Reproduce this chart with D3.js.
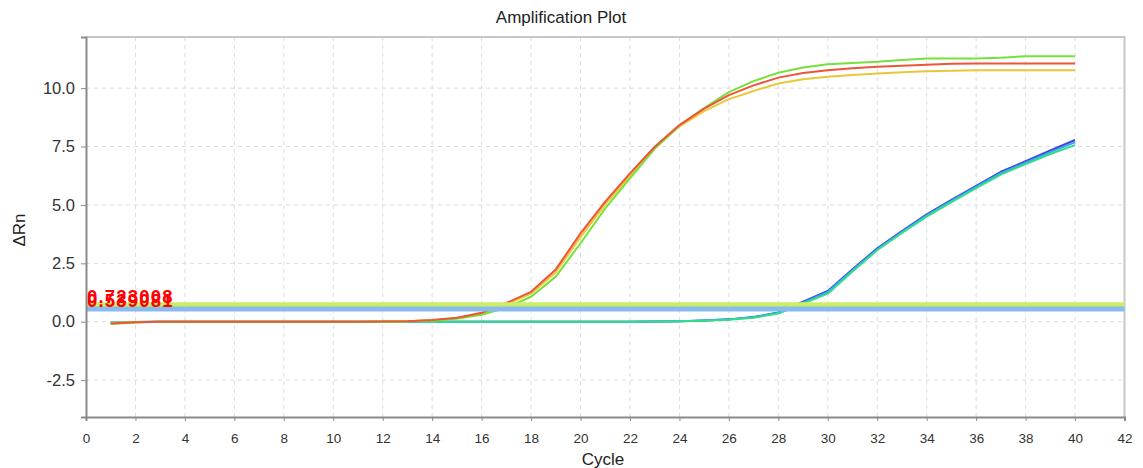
<!DOCTYPE html>
<html>
<head>
<meta charset="utf-8">
<script src="https://cdn.jsdelivr.net/npm/d3@7"></script>
<style>
  html, body { margin: 0; padding: 0; background: #fff; }
  svg { display: block; font-family: "Liberation Sans", Arial, sans-serif; }
</style>
</head>
<body>
<svg id="chart" width="1143" height="468"></svg>
<script>
// Amplification data: ΔRn per cycle for each well
const cycles = d3.range(1, 41);

const redWell = [-0.08,-0.02,0,0,0,0,0,0,0,0,0,0.01,0.02,0.07,0.17,0.38,0.8,1.28,2.24,3.78,
  5.14,6.35,7.49,8.42,9.12,9.7,10.12,10.45,10.65,10.77,10.85,10.92,10.96,11.0,11.04,11.06,11.06,11.06,11.06,11.06];
const yellowWell = [-0.06,-0.02,0,0,0,0,0,0,0,0,0,0.01,0.02,0.06,0.15,0.35,0.74,1.2,2.12,3.62,
  5.02,6.26,7.44,8.36,9.02,9.53,9.88,10.2,10.38,10.49,10.56,10.63,10.68,10.72,10.75,10.77,10.77,10.77,10.77,10.77];
const greenWell = [-0.1,-0.03,0,0,0,0,0,0,0,0,0,0.01,0.02,0.05,0.13,0.3,0.6,1.07,1.93,3.36,
  4.85,6.14,7.4,8.4,9.15,9.83,10.3,10.66,10.88,11.02,11.08,11.13,11.2,11.27,11.27,11.27,11.3,11.37,11.37,11.37];
const blueWell = [-0.04,-0.01,0,0,0,0,0,0,0,0,0,0,0,0,0,0,0,0,0,0,
  0,0,0.01,0.02,0.05,0.1,0.2,0.39,0.86,1.32,2.25,3.14,3.88,4.6,5.22,5.82,6.42,6.87,7.33,7.78];
const skyWell = [-0.04,-0.01,0,0,0,0,0,0,0,0,0,0,0,0,0,0,0,0,0,0,
  0,0,0.01,0.02,0.05,0.1,0.19,0.38,0.82,1.27,2.2,3.1,3.84,4.55,5.17,5.77,6.36,6.81,7.26,7.68];
const tealWell = [-0.04,-0.01,0,0,0,0,0,0,0,0,0,0,0,0,0,0,0,0,0,0,
  0,0,0.01,0.02,0.04,0.08,0.17,0.35,0.78,1.2,2.15,3.06,3.8,4.5,5.12,5.72,6.3,6.75,7.18,7.56];

// drawing order: later wells sit on top
const wells = [
  { name: "blue",   color: "#3f44dd", values: blueWell },
  { name: "sky",    color: "#33aaee", values: skyWell },
  { name: "teal",   color: "#33dd88", values: tealWell },
  { name: "yellow", color: "#e8c83a", values: yellowWell },
  { name: "green",  color: "#77e03a", values: greenWell },
  { name: "red",    color: "#ee5538", values: redWell }
];

// Threshold lines and their labels
const thresholdValues = [0.723008, 0.539081];
const thresholdLabels = ["0.723008", "0.539081"];
const thresholdColors = ["#ccee66", "#88bbee"];

const xTicks = d3.range(0, 43, 2);
const yTicks = [-2.5, 0, 2.5, 5, 7.5, 10];

const svg = d3.select("#chart");
const m = { left: 86, right: 1124.5, top: 37, bottom: 417 };

const x = d3.scaleLinear().domain([0, 42]).range([m.left, m.right]);
const y = d3.scaleLinear().domain([-4.08, 12.19]).range([m.bottom, m.top]);

// grid
const grid = svg.append("g").attr("stroke", "#dcdcdc").attr("stroke-dasharray", "4,4").attr("stroke-width", 1);
xTicks.slice(1, -1).forEach(t => grid.append("line").attr("x1", x(t)).attr("x2", x(t)).attr("y1", m.top).attr("y2", m.bottom));
yTicks.forEach(t => grid.append("line").attr("x1", m.left).attr("x2", m.right).attr("y1", y(t)).attr("y2", y(t)));

// frame: top and right border
svg.append("path")
  .attr("d", `M${m.left},${m.top}H${m.right}V${m.bottom}`)
  .attr("fill", "none").attr("stroke", "#c8c8c8").attr("stroke-width", 2);

// curves
const line = d3.line().x((d, i) => x(cycles[i])).y(d => y(d));
svg.append("g").selectAll("path").data(wells).join("path")
  .attr("d", d => line(d.values))
  .attr("fill", "none")
  .attr("stroke", d => d.color)
  .attr("stroke-width", 2)
  .attr("stroke-linejoin", "round");

// thresholds
thresholdValues.forEach((v, i) => {
  svg.append("line")
    .attr("x1", m.left).attr("x2", m.right)
    .attr("y1", y(v)).attr("y2", y(v))
    .attr("stroke", thresholdColors[i]).attr("stroke-width", 5);
});
thresholdValues.forEach((v, i) => {
  svg.append("text")
    .attr("x", m.left + 1).attr("y", y(v) - 2)
    .attr("fill", "#ff0000")
    .attr("font-weight", "bold")
    .attr("font-size", 18.5)
    .attr("letter-spacing", 1.2)
    .text(thresholdLabels[i]);
});

// axes
const xAxis = d3.axisBottom(x).tickValues(xTicks).tickFormat(d3.format("d")).tickSize(4).tickPadding(12);
const gx = svg.append("g").attr("transform", `translate(0,${m.bottom})`).call(xAxis);
gx.select(".domain").attr("stroke", "#8a8a8a").attr("stroke-width", 2);
gx.selectAll(".tick line").attr("stroke", "#8a8a8a");
gx.selectAll("text").attr("font-size", 13.5).attr("fill", "#333").attr("font-family", "'Liberation Sans', Arial, sans-serif");

const yAxis = d3.axisLeft(y).tickValues(yTicks).tickFormat(d => d.toFixed(1)).tickSize(5).tickPadding(6);
const gy = svg.append("g").attr("transform", `translate(${m.left},0)`).call(yAxis);
gy.select(".domain").attr("stroke", "#8a8a8a").attr("stroke-width", 2);
gy.selectAll(".tick line").attr("stroke", "#8a8a8a");
gy.selectAll("text").attr("font-size", 16.5).attr("fill", "#333").attr("font-family", "'Liberation Sans', Arial, sans-serif");

// titles
svg.append("text").attr("x", 561).attr("y", 23).attr("text-anchor", "middle")
  .attr("font-size", 17).attr("fill", "#222").text("Amplification Plot");
svg.append("text").attr("x", 603).attr("y", 465).attr("text-anchor", "middle")
  .attr("font-size", 17).attr("fill", "#222").text("Cycle");
svg.append("text").attr("transform", "translate(25,230) rotate(-90)").attr("text-anchor", "middle")
  .attr("font-size", 17).attr("fill", "#222").text("ΔRn");
</script>
</body>
</html>
